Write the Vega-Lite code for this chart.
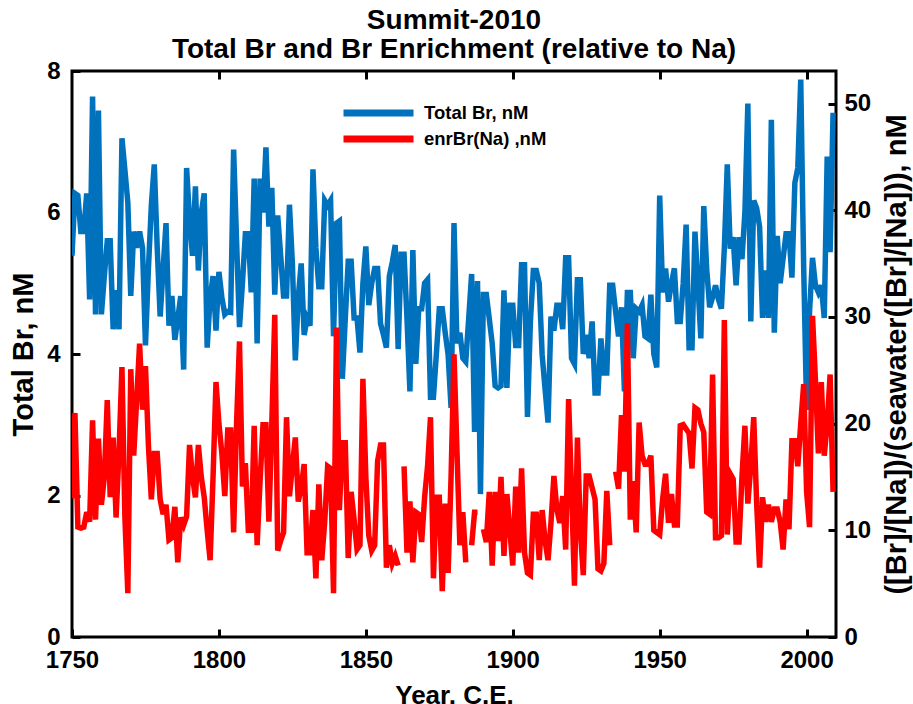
{
"$schema": "https://vega.github.io/schema/vega-lite/v6.json",
"width": 764,
"height": 566,
"autosize": {"type": "none"},
"padding": {"left": 72, "top": 71, "right": 77, "bottom": 67},
"background": "white",
"config": {
  "font": "Liberation Sans",
  "view": {"stroke": "black", "strokeWidth": 3},
  "axis": {"grid": false, "domain": false, "ticks": true, "tickColor": "black", "tickWidth": 3, "tickSize": -8, "labelFont": "Liberation Sans", "labelFontSize": 24, "labelFontWeight": "bold", "labelColor": "black", "titleFont": "Liberation Sans", "titleFontWeight": "bold", "titleColor": "black", "labelFlush": false, "labelOverlap": false}
},
"title": {"text": ["Summit-2010", "Total Br and Br Enrichment (relative to Na)"], "fontSize": 28, "fontWeight": "bold", "font": "Liberation Sans", "color": "black", "anchor": "middle", "frame": "group", "lineHeight": 29, "offset": -5},
"data": {"values": [
{"year":1750,"br":5.39,"enr":13.0},{"year":1751,"br":6.27,"enr":21.0},{"year":1752,"br":6.24,"enr":10.3},{"year":1753,"br":5.73,"enr":10.2},{"year":1754,"br":5.73,"enr":10.3},{"year":1755,"br":6.27,"enr":11.7},{"year":1756,"br":4.77,"enr":10.8},{"year":1757,"br":7.64,"enr":20.3},{"year":1758,"br":4.56,"enr":11.0},{"year":1759,"br":7.44,"enr":18.6},
{"year":1760,"br":4.56,"enr":12.4},{"year":1761,"br":5.1,"enr":15.0},{"year":1762,"br":5.6,"enr":22.2},{"year":1763,"br":5.6,"enr":13.1},{"year":1764,"br":4.35,"enr":18.7},{"year":1765,"br":4.9,"enr":11.2},{"year":1766,"br":4.35,"enr":17.4},{"year":1767,"br":7.05,"enr":25.3},{"year":1768,"br":6.6,"enr":11.2},{"year":1769,"br":6.14,"enr":4.1},
{"year":1770,"br":4.82,"enr":25.1},{"year":1771,"br":5.73,"enr":17.0},{"year":1772,"br":5.5,"enr":22.2},{"year":1773,"br":5.73,"enr":27.5},{"year":1774,"br":5.5,"enr":21.3},{"year":1775,"br":4.12,"enr":25.4},{"year":1776,"br":5.2,"enr":18.0},{"year":1777,"br":6.1,"enr":12.9},{"year":1778,"br":6.68,"enr":17.2},{"year":1779,"br":5.5,"enr":17.2},
{"year":1780,"br":4.53,"enr":12.9},{"year":1781,"br":5.2,"enr":11.5},{"year":1782,"br":5.85,"enr":12.4},{"year":1783,"br":4.4,"enr":9.1},{"year":1784,"br":4.82,"enr":9.3},{"year":1785,"br":4.2,"enr":12.2},{"year":1786,"br":4.5,"enr":7.0},{"year":1787,"br":4.82,"enr":11.2},{"year":1788,"br":3.78,"enr":10.5},{"year":1789,"br":6.63,"enr":11.3},
{"year":1790,"br":5.9,"enr":18.0},{"year":1791,"br":5.39,"enr":15.0},{"year":1792,"br":6.37,"enr":13.1},{"year":1793,"br":5.18,"enr":18.0},{"year":1794,"br":6.0,"enr":15.0},{"year":1795,"br":6.27,"enr":13.1},{"year":1796,"br":4.09,"enr":10.0},{"year":1797,"br":4.8,"enr":7.2},{"year":1798,"br":5.1,"enr":15.0},{"year":1799,"br":4.33,"enr":23.9},
{"year":1800,"br":5.16,"enr":20.0},{"year":1801,"br":4.8,"enr":17.2},{"year":1802,"br":4.56,"enr":13.2},{"year":1803,"br":4.6,"enr":19.4},{"year":1804,"br":4.59,"enr":19.4},{"year":1805,"br":6.89,"enr":9.8},{"year":1806,"br":5.6,"enr":20.0},{"year":1807,"br":4.38,"enr":27.7},{"year":1808,"br":5.0,"enr":14.1},{"year":1809,"br":5.7,"enr":16.3},
{"year":1810,"br":5.7,"enr":10.0},{"year":1811,"br":4.87,"enr":10.0},{"year":1812,"br":6.48,"enr":19.8},{"year":1813,"br":4.15,"enr":8.6},{"year":1814,"br":6.48,"enr":14.6},{"year":1815,"br":6.0,"enr":19.9},{"year":1816,"br":6.92,"enr":19.9},{"year":1817,"br":5.8,"enr":10.8},{"year":1818,"br":6.35,"enr":20.0},{"year":1819,"br":4.84,"enr":30.2},
{"year":1820,"br":5.96,"enr":8.1},{"year":1821,"br":5.4,"enr":9.0},{"year":1822,"br":4.82,"enr":9.8},{"year":1823,"br":4.82,"enr":20.6},{"year":1824,"br":6.11,"enr":13.2},{"year":1825,"br":5.28,"enr":16.0},{"year":1826,"br":3.91,"enr":18.7},{"year":1827,"br":4.8,"enr":12.7},{"year":1828,"br":5.28,"enr":14.0},{"year":1829,"br":4.27,"enr":16.2},
{"year":1830,"br":4.5,"enr":7.9},{"year":1831,"br":4.4,"enr":7.9},{"year":1832,"br":6.61,"enr":11.9},{"year":1833,"br":5.5,"enr":5.5},{"year":1834,"br":4.95,"enr":14.3},{"year":1835,"br":4.95,"enr":7.2},{"year":1836,"br":6.17,"enr":10.8},{"year":1837,"br":6.1,"enr":16.0},{"year":1838,"br":6.17,"enr":15.8},{"year":1839,"br":4.25,"enr":4.1},
{"year":1840,"br":5.85,"enr":29.0},{"year":1841,"br":5.88,"enr":11.9},{"year":1842,"br":3.65,"enr":18.2},{"year":1843,"br":4.5,"enr":18.2},{"year":1844,"br":5.31,"enr":7.4},{"year":1845,"br":5.31,"enr":13.6},{"year":1846,"br":4.51,"enr":11.0},{"year":1847,"br":4.51,"enr":8.2},{"year":1848,"br":4.02,"enr":8.6},{"year":1849,"br":5.0,"enr":24.2},
{"year":1850,"br":5.52,"enr":15.0},{"year":1851,"br":4.69,"enr":9.5},{"year":1852,"br":5.0,"enr":8.1},{"year":1853,"br":5.21,"enr":8.6},{"year":1854,"br":5.21,"enr":16.5},{"year":1855,"br":4.43,"enr":18.0},{"year":1856,"br":4.27,"enr":18.0},{"year":1857,"br":4.09,"enr":6.5},{"year":1858,"br":5.1,"enr":8.6},{"year":1859,"br":5.3,"enr":6.9},
{"year":1860,"br":5.54,"enr":7.6},{"year":1861,"br":4.07,"enr":6.7},{"year":1862,"br":5.41,"enr":null},{"year":1863,"br":5.41,"enr":16.0},{"year":1864,"br":4.5,"enr":7.9},{"year":1865,"br":3.47,"enr":12.7},{"year":1866,"br":5.47,"enr":7.0},{"year":1867,"br":3.86,"enr":11.7},{"year":1868,"br":4.64,"enr":11.5},{"year":1869,"br":4.64,"enr":8.9},
{"year":1870,"br":5.0,"enr":13.1},{"year":1871,"br":5.05,"enr":16.0},{"year":1872,"br":3.39,"enr":20.6},{"year":1873,"br":3.39,"enr":5.5},{"year":1874,"br":4.0,"enr":13.1},{"year":1875,"br":4.64,"enr":13.1},{"year":1876,"br":4.64,"enr":4.3},{"year":1877,"br":4.3,"enr":12.5},{"year":1878,"br":3.99,"enr":6.0},{"year":1879,"br":3.24,"enr":15.0},
{"year":1880,"br":5.85,"enr":26.5},{"year":1881,"br":4.15,"enr":17.5},{"year":1882,"br":4.3,"enr":8.6},{"year":1883,"br":3.94,"enr":11.7},{"year":1884,"br":3.89,"enr":7.0},{"year":1885,"br":4.5,"enr":null},{"year":1886,"br":5.13,"enr":8.6},{"year":1887,"br":2.9,"enr":11.7},{"year":1888,"br":5.03,"enr":11.7},{"year":1889,"br":2.02,"enr":null},
{"year":1890,"br":4.84,"enr":10.1},{"year":1891,"br":4.84,"enr":8.9},{"year":1892,"br":4.5,"enr":13.6},{"year":1893,"br":4.15,"enr":6.7},{"year":1894,"br":3.55,"enr":13.6},{"year":1895,"br":3.52,"enr":9.0},{"year":1896,"br":3.55,"enr":15.0},{"year":1897,"br":4.9,"enr":7.6},{"year":1898,"br":3.52,"enr":13.4},{"year":1899,"br":4.69,"enr":10.0},
{"year":1900,"br":4.69,"enr":6.7},{"year":1901,"br":4.12,"enr":14.1},{"year":1902,"br":4.12,"enr":7.9},{"year":1903,"br":5.26,"enr":15.8},{"year":1904,"br":5.26,"enr":7.9},{"year":1905,"br":3.11,"enr":6.0},{"year":1906,"br":4.46,"enr":5.8},{"year":1907,"br":5.18,"enr":11.5},{"year":1908,"br":5.18,"enr":11.5},{"year":1909,"br":5.0,"enr":7.2},
{"year":1910,"br":3.99,"enr":11.9},{"year":1911,"br":3.5,"enr":9.0},{"year":1912,"br":3.03,"enr":7.2},{"year":1913,"br":4.53,"enr":10.7},{"year":1914,"br":4.33,"enr":15.1},{"year":1915,"br":4.69,"enr":12.0},{"year":1916,"br":4.69,"enr":10.7},{"year":1917,"br":4.35,"enr":13.2},{"year":1918,"br":5.36,"enr":8.2},{"year":1919,"br":5.36,"enr":22.3},
{"year":1920,"br":3.94,"enr":13.7},{"year":1921,"br":3.86,"enr":4.8},{"year":1922,"br":5.05,"enr":18.7},{"year":1923,"br":5.05,"enr":10.0},{"year":1924,"br":4.0,"enr":5.8},{"year":1925,"br":4.27,"enr":15.1},{"year":1926,"br":3.94,"enr":15.1},{"year":1927,"br":4.46,"enr":14.0},{"year":1928,"br":3.45,"enr":12.9},{"year":1929,"br":3.45,"enr":6.4},
{"year":1930,"br":4.22,"enr":6.2},{"year":1931,"br":3.73,"enr":6.9},{"year":1932,"br":3.73,"enr":13.7},{"year":1933,"br":4.97,"enr":8.6},{"year":1934,"br":4.97,"enr":null},{"year":1935,"br":4.6,"enr":15.5},{"year":1936,"br":4.25,"enr":13.9},{"year":1937,"br":4.66,"enr":20.8},{"year":1938,"br":3.47,"enr":15.5},{"year":1939,"br":4.87,"enr":29.4},
{"year":1940,"br":4.87,"enr":11.0},{"year":1941,"br":3.94,"enr":14.6},{"year":1942,"br":4.64,"enr":9.8},{"year":1943,"br":4.6,"enr":20.1},{"year":1944,"br":4.69,"enr":17.0},{"year":1945,"br":4.25,"enr":16.2},{"year":1946,"br":4.22,"enr":16.2},{"year":1947,"br":4.84,"enr":17.0},{"year":1948,"br":4.0,"enr":10.0},{"year":1949,"br":3.81,"enr":9.8},
{"year":1950,"br":6.24,"enr":9.6},{"year":1951,"br":4.87,"enr":12.9},{"year":1952,"br":5.21,"enr":15.3},{"year":1953,"br":4.74,"enr":10.7},{"year":1954,"br":5.0,"enr":13.4},{"year":1955,"br":5.21,"enr":10.5},{"year":1956,"br":4.46,"enr":10.5},{"year":1957,"br":4.46,"enr":19.8},{"year":1958,"br":5.0,"enr":19.9},{"year":1959,"br":5.83,"enr":19.5},
{"year":1960,"br":4.09,"enr":19.1},{"year":1961,"br":4.09,"enr":15.8},{"year":1962,"br":5.73,"enr":21.5},{"year":1963,"br":5.0,"enr":21.3},{"year":1964,"br":4.22,"enr":20.0},{"year":1965,"br":6.09,"enr":19.2},{"year":1966,"br":5.2,"enr":11.7},{"year":1967,"br":4.66,"enr":11.5},{"year":1968,"br":4.8,"enr":24.6},{"year":1969,"br":4.97,"enr":9.3},
{"year":1970,"br":4.77,"enr":9.3},{"year":1971,"br":4.64,"enr":9.5},{"year":1972,"br":5.5,"enr":29.7},{"year":1973,"br":6.68,"enr":9.6},{"year":1974,"br":5.49,"enr":15.3},{"year":1975,"br":5.65,"enr":14.8},{"year":1976,"br":4.97,"enr":8.9},{"year":1977,"br":5.65,"enr":8.9},{"year":1978,"br":5.34,"enr":15.0},{"year":1979,"br":6.0,"enr":19.8},
{"year":1980,"br":7.54,"enr":12.5},{"year":1981,"br":4.46,"enr":16.0},{"year":1982,"br":6.17,"enr":20.6},{"year":1983,"br":6.06,"enr":12.5},{"year":1984,"br":5.8,"enr":6.5},{"year":1985,"br":4.51,"enr":13.1},{"year":1986,"br":5.18,"enr":10.8},{"year":1987,"br":4.51,"enr":12.4},{"year":1988,"br":7.31,"enr":10.8},{"year":1989,"br":4.3,"enr":12.0},
{"year":1990,"br":5.67,"enr":12.0},{"year":1991,"br":5.0,"enr":10.8},{"year":1992,"br":5.35,"enr":8.2},{"year":1993,"br":5.7,"enr":12.9},{"year":1994,"br":5.7,"enr":10.1},{"year":1995,"br":5.08,"enr":18.4},{"year":1996,"br":6.42,"enr":18.4},{"year":1997,"br":6.63,"enr":16.0},{"year":1998,"br":7.88,"enr":20.0},{"year":1999,"br":5.23,"enr":23.7},
{"year":2000,"br":3.21,"enr":13.6},{"year":2001,"br":4.6,"enr":10.3},{"year":2002,"br":5.36,"enr":30.1},{"year":2003,"br":4.97,"enr":24.1},{"year":2004,"br":4.87,"enr":17.2},{"year":2005,"br":4.97,"enr":23.9},{"year":2006,"br":4.51,"enr":17.0},{"year":2007,"br":6.79,"enr":20.0},{"year":2008,"br":5.44,"enr":24.6},{"year":2009,"br":7.41,"enr":13.6}
]},
"layer": [
  {
    "mark": {"type": "line", "strokeWidth": 5.5, "clip": true, "strokeJoin": "miter"},
    "encoding": {
      "x": {"field": "year", "type": "quantitative", "scale": {"domain": [1750, 2010], "nice": false, "zero": false},
            "axis": {"orient": "bottom", "values": [1750, 1800, 1850, 1900, 1950, 2000], "format": "d", "labelPadding": 19, "title": "Year, C.E.", "titleFontSize": 26, "titlePadding": 10}},
      "y": {"field": "br", "type": "quantitative", "scale": {"domain": [0, 8], "nice": false},
            "axis": {"orient": "left", "values": [0, 2, 4, 6, 8], "labelPadding": 20, "title": "Total Br, nM", "titleFontSize": 29, "titlePadding": 8}},
      "color": {"datum": "Total Br, nM", "type": "nominal",
                "scale": {"domain": ["Total Br, nM", "enrBr(Na) ,nM"], "range": ["#0072BD", "#FF0000"]},
                "legend": {"orient": "none", "legendX": 268, "legendY": 30, "title": null, "symbolType": "stroke", "symbolSize": 4900, "symbolStrokeWidth": 7, "labelFont": "Liberation Sans", "labelFontSize": 18.5, "labelFontWeight": "bold", "labelColor": "black", "labelOffset": 7, "clipHeight": 24, "rowPadding": 2, "padding": 0, "labelLimit": 400}}
    }
  },
  {
    "mark": {"type": "line", "strokeWidth": 5.5, "clip": true, "strokeJoin": "miter"},
    "encoding": {
      "x": {"field": "year", "type": "quantitative",
            "axis": {"orient": "top", "values": [1800, 1850, 1900, 1950, 2000], "labels": false, "title": null}},
      "y": {"field": "enr", "type": "quantitative", "scale": {"domain": [0, 53.05], "nice": false},
            "axis": {"orient": "right", "values": [0, 10, 20, 30, 40, 50], "labelPadding": 16, "title": "([Br]/[Na])/(seawater([Br]/[Na])), nM", "titleFontSize": 29, "titleAngle": 270, "titleBaseline": "top", "titlePadding": 12}},
      "color": {"datum": "enrBr(Na) ,nM", "type": "nominal"}
    }
  }
],
"resolve": {"scale": {"y": "independent"}, "axis": {"x": "independent"}}
}
